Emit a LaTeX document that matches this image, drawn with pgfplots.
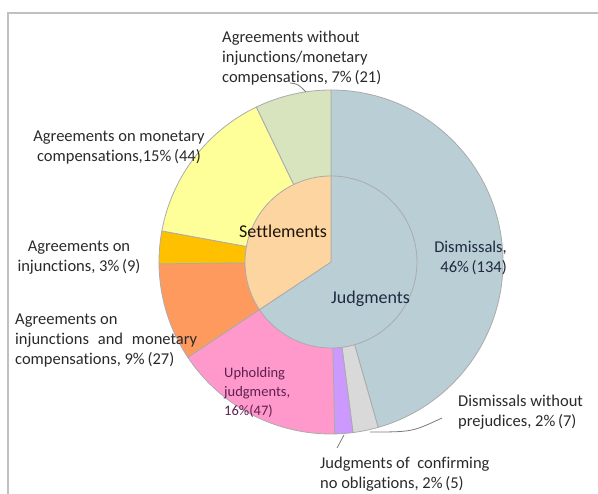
\documentclass[border=0pt]{standalone}
\usepackage{pgfplots}
\pgfplotsset{compat=1.18}
\usepackage{pgfplotstable}
\usepackage{fontspec}
\setmainfont{Carlito}[Ligatures={NoCommon}]

\definecolor{cDis}{HTML}{BACED6}
\definecolor{cDwp}{HTML}{D9D9D9}
\definecolor{cJco}{HTML}{CC99FF}
\definecolor{cUph}{HTML}{FF99CC}
\definecolor{cAim}{HTML}{FF9A5E}
\definecolor{cAi}{HTML}{FFC000}
\definecolor{cAm}{HTML}{FFFF99}
\definecolor{cAw}{HTML}{D7E4BD}
\definecolor{cJud}{HTML}{BACED6}
\definecolor{cSet}{HTML}{FCD5A0}
\definecolor{edge}{HTML}{ABABAB}
\definecolor{txt}{HTML}{2A2A2A}
\definecolor{navy}{HTML}{1E2A3E}
\definecolor{plum}{HTML}{5E2050}
\definecolor{lead}{HTML}{7A7A7A}
\definecolor{framec}{HTML}{C0C0C0}

% outer ring: cases by outcome (clockwise from 12 o'clock)
\pgfplotstableread[col sep=comma]{
value,color
134,cDis
7,cDwp
5,cJco
47,cUph
27,cAim
9,cAi
44,cAm
21,cAw
}\outerring
% inner pie: judgments vs settlements
\pgfplotstableread[col sep=comma]{
value,color
193,cJud
101,cSet
}\innerpie

\newcommand\piecx{331}
\newcommand\piecy{232}
% #1 table, #2 radius (pt)
\newcommand\drawslices[2]{%
  \pgfplotstablegetrowsof{#1}%
  \pgfmathtruncatemacro\nlast{\pgfplotsretval-1}%
  \gdef\ringtotal{0}%
  \foreach \k in {0,...,\nlast}{%
    \pgfplotstablegetelem{\k}{value}\of#1%
    \pgfmathsetmacro\tmp{\ringtotal+\pgfplotsretval}\xdef\ringtotal{\tmp}}%
  \gdef\ringcum{0}%
  \foreach \k in {0,...,\nlast}{%
    \pgfplotstablegetelem{\k}{value}\of#1\let\v\pgfplotsretval
    \pgfplotstablegetelem{\k}{color}\of#1\let\slicecolor\pgfplotsretval
    \pgfmathsetmacro\aa{90-360*(\ringcum/\ringtotal)}%
    \pgfmathsetmacro\tmp{\ringcum+\v}\xdef\ringcum{\tmp}%
    \pgfmathsetmacro\ab{90-360*(\ringcum/\ringtotal)}%
    \filldraw[fill=\slicecolor, draw=edge, line width=0.8pt, line join=round]
      (axis cs:\piecx,\piecy) --
      (axis cs:{\piecx+#2*cos(\aa)},{\piecy+#2*sin(\aa)})
      arc[start angle=\aa, end angle=\ab, radius=#2pt] -- cycle;
  }%
}

\newcommand\lbl{\fontsize{16.5}{20}\selectfont}

\begin{document}
\begin{tikzpicture}
\useasboundingbox (0,0) rectangle (598pt,494pt);
\clip (0,0) rectangle (598pt,494pt);
\begin{axis}[x=1pt,y=1pt,xmin=0,xmax=598,ymin=0,ymax=494,
  hide axis, clip=false, scale only axis, anchor=south west, at={(0,0)}]
\path (axis cs:0,0) rectangle (axis cs:598,494);
\pgfplotsextra{%
  \drawslices{\outerring}{172}%
  \drawslices{\innerpie}{86}%
}
% frame
\draw[framec, line width=1.6pt] (axis cs:8,-10) -- (axis cs:8,481) -- (axis cs:610,481);
% leader lines
\draw[lead, line width=0.8pt] (axis cs:290,411) .. controls (axis cs:298,410) .. (axis cs:306,402);
\draw[lead, line width=0.8pt] (axis cs:442,76) .. controls (axis cs:412,62) .. (axis cs:370,62);
\draw[lead, line width=0.8pt] (axis cs:344,59) -- (axis cs:337,46);
% labels
\node[anchor=base west, inner sep=0, txt] at (axis cs:222,451)
  {\lbl\begin{tabular}[t]{@{}l@{}}Agreements without\\injunctions/monetary\\compensations, 7\%\,(21)\end{tabular}};
\node[anchor=base, inner sep=0, txt] at (axis cs:119,352)
  {\lbl\begin{tabular}[t]{@{}c@{}}Agreements on monetary\\compensations,15\%\,(44)\end{tabular}};
\node[anchor=base, inner sep=0, txt] at (axis cs:79,242)
  {\lbl\begin{tabular}[t]{@{}c@{}}Agreements on\\injunctions, 3\%\,(9)\end{tabular}};
\node[anchor=base west, inner sep=0, txt] at (axis cs:15,169)
  {\lbl\begin{tabular}[t]{@{}l@{}}Agreements on\\\makebox[182pt][s]{injunctions and monetary}\\compensations, 9\%\,(27)\end{tabular}};
\node[anchor=base west, inner sep=0, plum] at (axis cs:224,116)
  {\fontsize{14.5}{19}\selectfont\begin{tabular}[t]{@{}l@{}}Upholding\\judgments,\\16\%(47)\end{tabular}};
\node[anchor=base west, inner sep=0, text=black!85!brown] at (axis cs:239,256)
  {\fontsize{18}{22}\selectfont Settlements};
\node[anchor=base west, inner sep=0, navy] at (axis cs:331,190)
  {\fontsize{18}{22}\selectfont Judgments};
\node[anchor=base east, inner sep=0, navy] at (axis cs:507,241)
  {\lbl\begin{tabular}[t]{@{}r@{}}Dismissals,\\46\%\,(134)\end{tabular}};
\node[anchor=base west, inner sep=0, txt] at (axis cs:458,87)
  {\lbl\begin{tabular}[t]{@{}l@{}}Dismissals without\\prejudices, 2\%\,(7)\end{tabular}};
\node[anchor=base west, inner sep=0, txt] at (axis cs:320,25)
  {\lbl\begin{tabular}[t]{@{}l@{}}Judgments of~ confirming\\no obligations, 2\%\,(5)\end{tabular}};
\end{axis}
\end{tikzpicture}
\end{document}
